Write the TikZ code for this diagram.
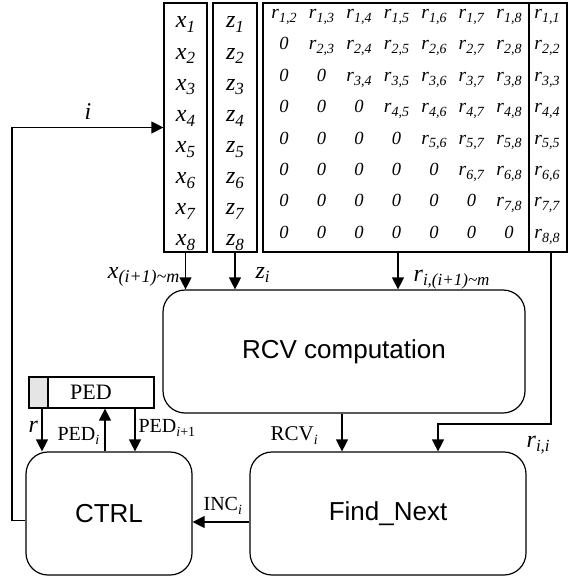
\documentclass[tikz,border=0pt]{standalone}
\usepackage{fontspec}
\setmainfont{Liberation Serif}
\newfontfamily\arialf{Liberation Sans}
\usetikzlibrary{arrows.meta,calc}
\newcommand\sbx[4]{{\fontsize{#3}{#3}\selectfont #1\raisebox{-.2em}{\fontsize{#4}{#4}\selectfont #2}}}
\newcommand\rij[2]{\sbx{\textit{r}}{\textit{#1,#2}}{19.5}{14}}
\newcommand\zr{{\fontsize{18.5}{18.5}\selectfont\textit{0}}}
\begin{document}
\begin{tikzpicture}[x=1pt,y=-1pt,line width=1.2pt,
  col/.style={draw,inner sep=0pt,minimum height=249pt},
  rbox/.style={draw,rounded corners=22pt,inner sep=0pt,minimum height=123pt,font=\arialf\fontsize{26}{30}\selectfont},
  arr/.style={-{Triangle[width=12pt,length=12pt]}},
  lab/.style={inner sep=0pt,anchor=base west},
  ent/.style={inner sep=0pt,anchor=base}]
\useasboundingbox (0,0) rectangle (568,577);
% columns
\node[col,minimum width=43pt] (xcol) at (185.5,127.5) {};
\node[col,minimum width=44pt] (zcol) at (235,127.5) {};
\node[col,minimum width=266pt] (rmat) at (396,127.5) {};
\node[col,minimum width=38pt] (rdiag) at (548,127.5) {};
% entries
\foreach \k in {1,...,8}{
  \node[ent] (x\k) at (185.5,{28+31.1*(\k-1)}) {\sbx{\textit{x}}{\textit{\k}}{24}{17}};
  \node[ent] (z\k) at (235,{28+31.1*(\k-1)}) {\sbx{\textit{z}}{\textit{\k}}{24}{17}};
  \node[ent] (d\k) at (547,{18.5+31.4*(\k-1)}) {\rij{\k}{\k}};
  \foreach \j in {2,...,8}{
    \node[ent] (m\k\j) at ({284+37.5*(\j-2)},{18.5+31.4*(\k-1)}) {\ifnum\j>\k\relax\rij{\k}{\j}\else\zr\fi};
  }
}
% main boxes
\node[rbox,minimum width=362pt] (rcv) at (344,351.5) {RCV computation};
\node[rbox,minimum width=276pt] (find) at (388,513.5) {Find\_Next};
\node[rbox,minimum width=166pt] (ctrl) at (109,513.5) {CTRL};
\node[draw,inner sep=0pt,minimum width=125pt,minimum height=31pt] (ped) at (91.5,392.5) {};
\node[draw,fill=black!10,inner sep=0pt,minimum width=19pt,minimum height=31pt] (pedc) at (38.5,392.5) {};
\node[inner sep=0pt,anchor=base,font=\fontsize{22}{22}\selectfont] (pedt) at (91,399) {PED};
% connectors
\draw[arr] (xcol.south) -- (xcol.south |- rcv.north);
\draw[arr] (zcol.south) -- (zcol.south |- rcv.north);
\draw[arr] ([xshift=2pt]rmat.south) -- ([xshift=2pt]rmat.south |- rcv.north);
\coordinate (rii) at (438,424);
\draw[arr] ([xshift=3pt]rdiag.south) |- (rii) -- (rii |- find.north);
\draw[arr] ([xshift=-2pt]rcv.south) -- ([xshift=-2pt]rcv.south |- find.north);
\draw[arr] ([yshift=-8.5pt]find.west) -- ([yshift=-8.5pt]ctrl.east);
\coordinate (fb) at (12,127.5);
\draw[arr] ([yshift=-7pt]ctrl.west) -| (fb) -- (xcol.west);
\draw[arr] ([xshift=-49.5pt]ped.south) -- ([xshift=-49.5pt]ped.south |- ctrl.north);
\draw[arr] ([xshift=13.5pt]ped.south |- ctrl.north) -- ([xshift=13.5pt]ped.south);
\draw[arr] ([xshift=43.5pt]ped.south) -- ([xshift=43.5pt]ped.south |- ctrl.north);
% labels
\node[inner sep=0pt,anchor=base east] (lx) at (180,278) {\sbx{\textit{x}}{\textit{(i+1)\textasciitilde m}}{24}{18}};
\node[lab] (lz) at (255,278) {\sbx{\textit{z}}{\textit{i}}{24}{17}};
\node[lab] (lr) at (413,281) {\sbx{\textit{r}}{\textit{i,(i+1)\textasciitilde m}}{24}{17}};
\node[lab] (lrii) at (526,447) {\sbx{\textit{r}}{\textit{i,i}}{24}{17}};
\node[lab] (lrcv) at (270,440) {\sbx{RCV}{\textit{i}}{21}{14}};
\node[lab] (linc) at (203,510) {\sbx{INC}{\textit{i}}{20}{14}};
\node[lab] (lpi) at (57,440) {\sbx{PED}{\textit{i}}{20}{14}};
\node[lab] (lpi1) at (138,432) {\sbx{PED}{\textit{i}+1}{20}{14}};
\node[lab] (lrr) at (28,432) {\fontsize{24}{24}\selectfont\textit{r}};
\node[ent] (li) at (88,120) {\fontsize{24}{24}\selectfont\textit{i}};
\end{tikzpicture}
\end{document}
